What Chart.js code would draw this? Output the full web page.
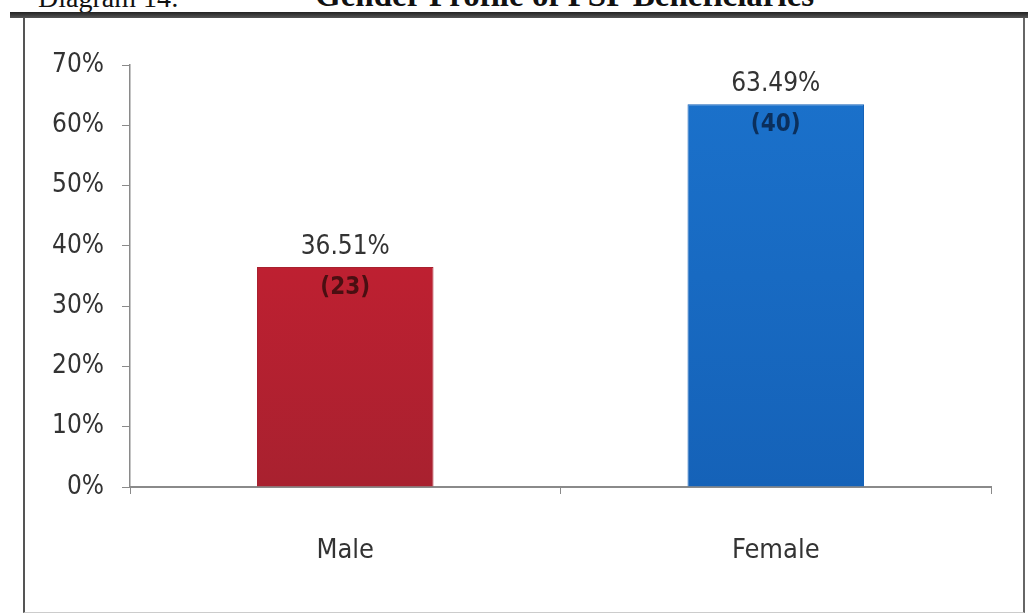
<!DOCTYPE html>
<html lang="en">

<head>
    <meta charset="UTF-8" />
    <title>Gender Profile of PSP Beneficiaries</title>
    <script src="https://cdn.jsdelivr.net/npm/chart.js"></script>
    <style>
        body {
            margin: 0;
            width: 1028px;
            height: 616px;
            overflow: hidden;
            background: #ffffff;
            position: relative;
            font-family: "Liberation Sans Narrow", "DejaVu Sans Condensed", sans-serif;
        }

        #title {
            position: absolute;
            top: -16px;
            left: 38px;
            font-family: "Liberation Serif", serif;
            font-size: 28px;
            line-height: 28px;
            white-space: nowrap;
            color: #111;
        }

        #title b {
            position: absolute;
            left: 277px;
            top: -3px;
            font-size: 33px;
        }

        #rule {
            position: absolute;
            top: 12px;
            left: 10px;
            width: 1018px;
            height: 6px;
            background: linear-gradient(#222, #555);
        }

        #frame {
            position: absolute;
            top: 18px;
            left: 23px;
            width: 998px;
            height: 594px;
            border-left: 2px solid #555;
            border-right: 2px solid #666;
            border-bottom: 1px solid #ccc;
        }

        #chartCanvas {
            position: absolute;
            top: 0;
            left: 0;
        }
    </style>
</head>

<body>

    <div id="title">Diagram 14:<b>Gender Profile of PSP Beneficiaries</b></div>
    <div id="rule"></div>
    <div id="frame"></div>
    <canvas id="chartCanvas" width="1028" height="616"></canvas>

    <script>
        const categories = ['Male', 'Female'];
        const percentages = [36.51, 63.49];
        const counts = [23, 40];
        const yTicks = [0, 10, 20, 30, 40, 50, 60, 70];

        const barColors = [['#d21f33', '#a8212f'], ['#1b72cc', '#1562b8']];
        const countColors = ['#4a0f12', '#0b2f5c'];
        const fontFamily = '"Liberation Sans Narrow", "DejaVu Sans Condensed", sans-serif';

        // etiquetes de valor: % a sobre, recompte a dins
        const labelPlugin = {
            id: 'barLabels',
            afterDatasetsDraw(chart) {
                const ctx = chart.ctx;
                const meta = chart.getDatasetMeta(0);
                ctx.save();
                ctx.textAlign = 'center';
                ctx.textBaseline = 'middle';
                meta.data.forEach((bar, i) => {
                    ctx.font = '26px ' + fontFamily;
                    ctx.fillStyle = '#333';
                    ctx.fillText(percentages[i].toFixed(2) + '%', bar.x, bar.y - 20);
                    ctx.font = 'bold 24px ' + fontFamily;
                    ctx.fillStyle = countColors[i];
                    ctx.fillText('(' + counts[i] + ')', bar.x, bar.y + 21);
                });
                ctx.restore();
            }
        };

        const ctx = document.getElementById('chartCanvas').getContext('2d');

        new Chart(ctx, {
            type: 'bar',
            data: {
                labels: categories,
                datasets: [{
                    data: percentages,
                    backgroundColor: (c) => {
                        const area = c.chart.chartArea;
                        if (!area) return barColors[c.dataIndex][0];
                        const g = c.chart.ctx.createLinearGradient(0, area.top, 0, area.bottom);
                        g.addColorStop(0, barColors[c.dataIndex][0]);
                        g.addColorStop(1, barColors[c.dataIndex][1]);
                        return g;
                    },
                    borderColor: (c) => barColors[c.dataIndex][1],
                    borderWidth: 1,
                    categoryPercentage: 0.82,
                    barPercentage: 0.5
                }]
            },
            options: {
                responsive: false,
                animation: false,
                layout: {
                    padding: { top: 65, right: 37, left: 0, bottom: 0 }
                },
                plugins: {
                    legend: { display: false },
                    tooltip: { enabled: false },
                    title: { display: false }
                },
                scales: {
                    x: {
                        grid: {
                            offset: true,
                            drawOnChartArea: false,
                            tickLength: 7,
                            color: '#8a8a8a'
                        },
                        border: { color: '#8a8a8a', width: 2 },
                        ticks: {
                            padding: 41,
                            color: '#333',
                            font: { family: fontFamily, size: 27 }
                        },
                        afterFit: (scale) => { scale.height = 129; }
                    },
                    y: {
                        min: 0,
                        max: 70,
                        afterBuildTicks: (scale) => { scale.ticks = yTicks.map(v => ({ value: v })); },
                        grid: {
                            drawOnChartArea: false,
                            tickLength: 8,
                            color: '#8a8a8a'
                        },
                        border: { color: '#8a8a8a', width: 1.5 },
                        ticks: {
                            padding: 18,
                            color: '#333',
                            font: { family: fontFamily, size: 26 },
                            callback: (v) => v + '%'
                        },
                        afterFit: (scale) => { scale.width = 130; }
                    }
                }
            },
            plugins: [labelPlugin]
        });
    </script>
</body>

</html>
